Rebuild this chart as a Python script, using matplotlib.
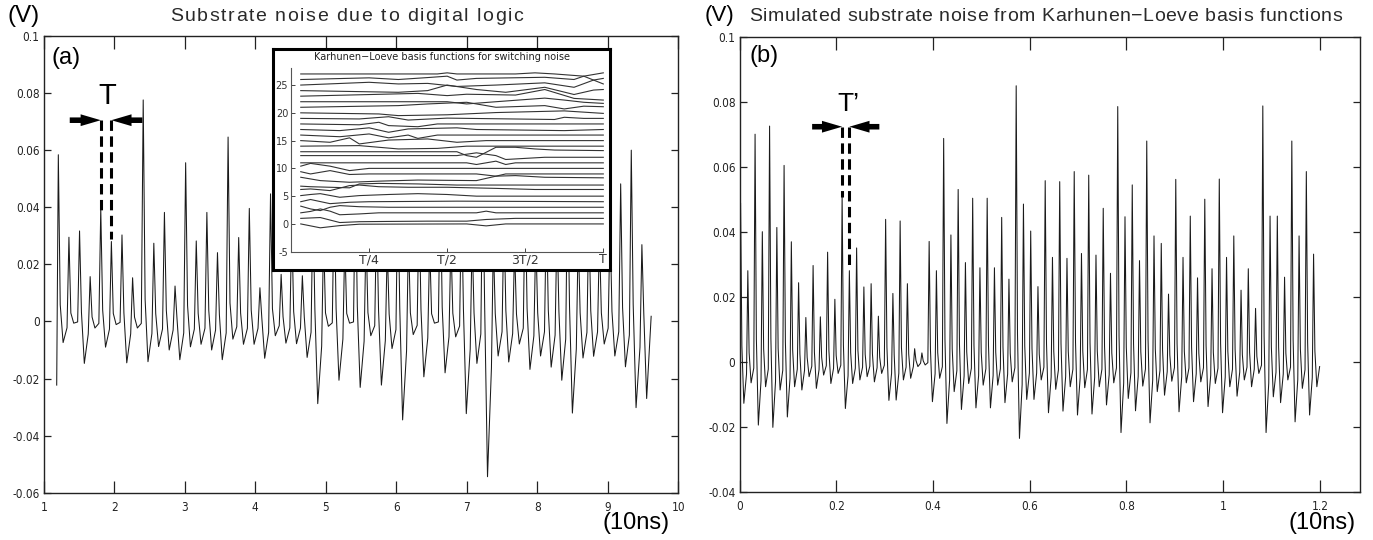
import numpy as np
import matplotlib
matplotlib.use("Agg")
import matplotlib.pyplot as plt
from matplotlib import font_manager as fm
from matplotlib.font_manager import FontProperties

# ---------------- data ----------------
# Panel (a): measured substrate noise, one spike per clock cycle
t_first_a = 1.206          # time of first spike (10 ns units)
period_a = 0.1505          # clock period T
start_a = (1.183, -0.0223)
end_a = (9.615, 0.0018)
peak_a = [0.0584, 0.0295, 0.0317, 0.0157, 0.0395, 0.0280, 0.0303, 0.0153, 0.0776, 0.0274,
          0.0382, 0.0124, 0.0556, 0.0282, 0.0382, 0.0241, 0.0646, 0.0294, 0.0396, 0.0118,
          0.0447, 0.0165, 0.0350, 0.0160, 0.0420, 0.0300, 0.0450, 0.0280, 0.0520, 0.0310,
          0.0400, 0.0260, 0.0480, 0.0300, 0.0420, 0.0270, 0.0500, 0.0290, 0.0440, 0.0300,
          0.0560, 0.0280, 0.0380, 0.0260, 0.0460, 0.0300, 0.0400, 0.0350, 0.0520, 0.0300,
          0.0380, 0.0300, 0.0350, 0.0482, 0.0600, 0.0269]
low_a = [-0.0074, -0.0006, -0.0147, -0.0023, -0.0090, -0.0011, -0.0145, -0.0023, -0.0141, -0.0088,
         -0.0100, -0.0134, -0.0089, -0.0080, -0.0100, -0.0134, -0.0062, -0.0080, -0.0080, -0.0129,
         -0.0050, -0.0076, -0.0078, -0.0126, -0.0288, -0.0017, -0.0206, -0.0006, -0.0231, -0.0050,
         -0.0223, -0.0095, -0.0345, -0.0046, -0.0194, -0.0006, -0.0180, -0.0054, -0.0323, -0.0147,
         -0.0544, -0.0121, -0.0142, -0.0079, -0.0168, -0.0121, -0.0160, -0.0206, -0.0321, -0.0128,
         -0.0122, -0.0079, -0.0121, -0.0159, -0.0302, -0.0270]

# Panel (b): simulated noise from KL basis functions
t_first_b = 0.002
period_b = 0.015           # period T'
end_b = (1.1995, -0.0015)
peak_b = [0.0487, 0.0280, 0.0700, 0.0400, 0.0725, 0.0413, 0.0604, 0.0369, 0.0243, 0.0136,
          0.0296, 0.0138, 0.0337, 0.0192, 0.0508, 0.0280, 0.0350, 0.0230, 0.0240, 0.0140,
          0.0438, 0.0210, 0.0433, 0.0240, 0.0040, 0.0027, 0.0370, 0.0280, 0.0687, 0.0390,
          0.0530, 0.0305, 0.0503, 0.0289, 0.0503, 0.0289, 0.0444, 0.0254, 0.0849, 0.0485,
          0.0402, 0.0231, 0.0557, 0.0321, 0.0554, 0.0318, 0.0585, 0.0333, 0.0574, 0.0328,
          0.0472, 0.0272, 0.0785, 0.0446, 0.0544, 0.0311, 0.0679, 0.0387, 0.0364, 0.0208,
          0.0561, 0.0321, 0.0448, 0.0258, 0.0500, 0.0286, 0.0562, 0.0321, 0.0387, 0.0220,
          0.0286, 0.0164, 0.0787, 0.0448, 0.0448, 0.0260, 0.0679, 0.0387, 0.0585, 0.0331]
low_b = [-0.0128, -0.0065, -0.0195, -0.0077, -0.0202, -0.0087, -0.0170, -0.0077, -0.0087, -0.0046,
         -0.0082, -0.0041, -0.0067, -0.0036, -0.0144, -0.0067, -0.0056, -0.0046, -0.0062, -0.0036,
         -0.0119, -0.0118, -0.0056, -0.0051, -0.0015, -0.0010, -0.0123, -0.0051, -0.0190, -0.0092,
         -0.0147, -0.0067, -0.0142, -0.0072, -0.0142, -0.0072, -0.0126, -0.0062, -0.0236, -0.0116,
         -0.0116, -0.0056, -0.0157, -0.0085, -0.0152, -0.0077, -0.0164, -0.0080, -0.0161, -0.0077,
         -0.0133, -0.0065, -0.0218, -0.0113, -0.0151, -0.0075, -0.0188, -0.0092, -0.0103, -0.0060,
         -0.0154, -0.0065, -0.0123, -0.0062, -0.0138, -0.0067, -0.0157, -0.0077, -0.0106, -0.0056,
         -0.0077, -0.0036, -0.0218, -0.0108, -0.0126, -0.0056, -0.0185, -0.0082, -0.0164, -0.0077]

# Inset: Karhunen-Loeve basis functions, 32 samples per period, line k offset by k
kl_samples = 32
kl_lines = [
    [(0, 0), (2, -0.7), (4, -0.3), (6, -0.05), (17, 0), (19, -0.35), (21, 0), (31, 0)],
    [(0, 0), (2, 0.15), (4, -0.75), (6, -0.6), (9, -0.55), (13, -0.5), (17, -0.5), (19, -0.2), (22, 0), (31, 0)],
    [(0, 0), (1, 0.25), (2, 0.7), (3, 0.3), (4, -0.35), (6, -0.2), (8, 0), (18, 0), (19, 0.3), (20, 0), (31, 0)],
    [(0, 0.2), (1, -0.3), (2, -0.6), (3, 0), (4, 0.3), (6, 0.1), (9, 0), (31, 0)],
    [(0, 0), (1, 0.4), (3, -0.35), (5, -0.1), (7, 0), (16, 0.1), (31, 0)],
    [(0, 0.1), (1, 0.3), (2, 0.45), (4, -0.2), (6, 0.1), (9, 0.3), (12, 0.45), (15, 0.3), (18, 0), (31, 0)],
    [(0, 0.2), (1, 0.3), (3, 0), (5, 0.9), (6, 1.0), (8, 0.7), (11, 0.6), (15, 0.6), (20, 0.4), (24, 0.2), (31, 0.2)],
    [(0, -0.2), (1, -0.3), (3, -0.4), (5, -0.5), (6, 0.2), (8, 0.3), (12, 0.2), (16, 0), (31, 0)],
    [(0, 0.4), (2, -0.2), (5, -0.5), (8, -0.3), (12, -0.1), (18, -0.2), (20, 0.6), (22, 0.7), (25, 0.4), (31, 0.3)],
    [(0, 0.4), (1, 0), (3, 0.6), (5, -0.1), (7, 0), (18, 0), (20, -0.4), (21, 0), (31, 0)],
    [(0, 0.4), (1, 0.9), (3, 0.4), (5, -0.4), (7, 0), (31, 0)],
    [(0, 0), (17, 0), (18, -0.3), (20, 0.3), (21, -0.3), (22, 0), (31, 0)],
    [(0, 0.3), (16, 0.3), (18, 0.8), (20, 0.3), (21, -0.4), (23, -0.2), (25, 0), (31, 0)],
    [(0, 0), (16, 0), (17, -0.7), (18, -1.0), (20, 0.8), (22, 0.8), (24, 0.5), (26, 0.3), (31, 0.2)],
    [(0, 0), (6, 0.1), (10, -0.5), (14, -0.4), (17, 0), (31, 0)],
    [(0, 0), (3, -0.3), (5, 0.5), (6, -0.6), (9, 0.1), (13, 0.3), (16, -0.3), (19, 0), (31, 0)],
    [(0, 0), (4, -0.3), (7, 0.2), (9, -0.5), (11, 0), (12, -0.6), (14, 0), (31, 0)],
    [(0, 0), (4, -0.2), (7, 0.3), (9, -0.5), (11, 0.1), (16, 0.3), (18, 0), (27, -0.2), (31, 0)],
    [(0, 0), (6, -0.15), (8, 0.3), (9, -0.3), (12, -0.5), (14, 0), (31, 0)],
    [(0, 0), (6, -0.1), (9, 0.3), (11, -0.3), (15, 0.05), (26, -0.2), (27, 0.2), (29, 0), (31, 0)],
    [(0, 0), (8, -0.2), (10, -0.5), (15, -0.35), (20, 0.05), (27, 0.35), (31, -0.1)],
    [(0, 0), (10, 0.3), (13, 0.6), (17, 0.9), (20, 0), (25, 0.3), (27, -0.3), (29, 0.2), (31, 0.1)],
    [(0, 0), (15, 0), (17, -0.4), (20, 0), (25, 0.65), (27, 0.3), (29, -0.1), (31, -0.3)],
    [(0, 0), (12, 0.5), (15, 0.1), (17, 0.35), (22, 0.2), (25, 1.2), (28, -0.4), (31, -0.7)],
    [(0, 0), (10, -0.3), (13, 0), (15, 1.0), (18, 0.2), (21, -0.3), (25, 0.6), (28, -0.7), (30, 0.1), (31, 0.2)],
    [(0, 0), (7, 0.5), (10, 0.2), (13, 0.3), (16, -0.25), (20, 0), (25, 0.4), (28, -0.4), (30, 0.9), (31, 1.2)],
    [(0, 0), (7, 0.3), (10, 0), (13, 0.35), (15, 0.6), (16, -0.1), (18, 0.2), (25, 0.4), (28, 0), (29, 0.6), (31, -0.8)],
    [(0, 0), (14, 0), (15, 0.2), (16, 0), (22, 0), (24, 0.2), (26, 0), (29, -0.4), (31, 0.2)],
]
kl_xticks = [0.25, 0.5, 0.75, 1.0]
kl_xticklabels = ["T/4", "T/2", "3T/2", "T"]
kl_yticks = [-5, 0, 5, 10, 15, 20, 25]

xticks_a = [1, 2, 3, 4, 5, 6, 7, 8, 9, 10]
yticks_a = [-0.06, -0.04, -0.02, 0, 0.02, 0.04, 0.06, 0.08, 0.1]
ylabels_a = ["-0.06", "-0.04", "-0.02", "0", "0.02", "0.04", "0.06", "0.08", "0.1"]
xticks_b = [0, 0.2, 0.4, 0.6, 0.8, 1.0, 1.2]
xlabels_b = ["0", "0.2", "0.4", "0.6", "0.8", "1", "1.2"]
yticks_b = [-0.04, -0.02, 0, 0.02, 0.04, 0.06, 0.08, 0.1]
ylabels_b = ["-0.04", "-0.02", "0", "0.02", "0.04", "0.06", "0.08", "0.1"]

title_a = "Substrate noise due to digital logic"
title_b = "Simulated substrate noise from Karhunen\u2212Loeve basis functions"

# ---------------- rendering ----------------
W, H = 1373, 540
fig = plt.figure(figsize=(W / 100, H / 100), dpi=100)
fig.patch.set_facecolor("white")

names = {f.name for f in fm.fontManager.ttflist}
has_condensed = any(f.name == "DejaVu Sans" and f.stretch == "condensed" for f in fm.fontManager.ttflist)
if "Liberation Sans Narrow" in names:
    TICKPROP = dict(family="Liberation Sans Narrow")
    TICKSIZE = 9.5
elif has_condensed:
    TICKPROP = dict(family="DejaVu Sans", stretch="condensed")
    TICKSIZE = 8.5
else:
    TICKPROP = dict(family="DejaVu Sans")
    TICKSIZE = 8
LABELFONT = "Liberation Sans" if "Liberation Sans" in names else "DejaVu Sans"


def px_axes(x0, y0, x1, y1, **kw):
    return fig.add_axes([x0 / W, 1 - y1 / H, (x1 - x0) / W, (y1 - y0) / H], **kw)


def fig_text(x, y, s, **kw):
    return fig.text(x / W, 1 - y / H, s, **kw)


def tracked_text(x_left, y_base, s, size, target_width, **kw):
    """Text laid out character by character with extra letter spacing."""
    r = fig.canvas.get_renderer()
    prop = FontProperties(family=LABELFONT, size=size)
    bar = r.get_text_width_height_descent("||", prop, ismath=False)[0]
    adv = [r.get_text_width_height_descent("|" + c + "|", prop, ismath=False)[0] - bar for c in s]
    extra = (target_width - sum(adv)) / (len(s) - 1)
    x = x_left
    for c, w in zip(s, adv):
        if c != " ":
            fig_text(x, y_base, c, ha="left", va="baseline", fontproperties=prop, **kw)
        x += w + extra


SHAPE_FALL, SHAPE_LOW, SHAPE_REC, RECOVER = 0.18, 0.45, 0.82, 0.3


def trace(t_first, period, peaks, lows, start=None, end=None):
    ts, vs = [], []
    if start is not None:
        ts.append(start[0]); vs.append(start[1])
    n = len(peaks)
    for k in range(n):
        t = t_first + k * period
        ts += [t, t + SHAPE_FALL * period, t + SHAPE_LOW * period]
        vs += [peaks[k], 0.1 * peaks[k], lows[k]]
        if k < n - 1:
            ts.append(t + SHAPE_REC * period)
            vs.append(RECOVER * lows[k])
    if end is not None:
        ts.append(end[0]); vs.append(end[1])
    return np.array(ts), np.array(vs)


def style_main(ax):
    for s in ax.spines.values():
        s.set_linewidth(1.0)
        s.set_color("#222222")
    ax.tick_params(axis="both", which="both", direction="in", top=True, right=True,
                   colors="#222222", labelsize=TICKSIZE, width=0.9)
    ax.tick_params(axis="x", length=9, pad=6)
    ax.tick_params(axis="y", length=5, pad=3)
    for lab in ax.get_xticklabels() + ax.get_yticklabels():
        lab.set_fontfamily(TICKPROP["family"])
        if "stretch" in TICKPROP:
            lab.set_fontstretch(TICKPROP["stretch"])


# Panel (a)
axa = px_axes(43.8, 36, 678.3, 492.7)
ta, va = trace(t_first_a, period_a, peak_a, low_a, start_a, end_a)
axa.plot(ta, va, color="#1a1a1a", lw=0.75)
axa.set_xlim(1, 10)
axa.set_ylim(-0.06, 0.1)
axa.set_xticks(xticks_a)
axa.set_xticklabels([str(v) for v in xticks_a])
axa.set_yticks(yticks_a)
axa.set_yticklabels(ylabels_a)
style_main(axa)

# Panel (b)
axb = px_axes(739.6, 36.7, 1360, 491.7)
tb, vb = trace(t_first_b, period_b, peak_b, low_b, None, end_b)
axb.plot(tb, vb, color="#1a1a1a", lw=0.75)
axb.set_xlim(0, 1.283)
axb.set_ylim(-0.04, 0.1)
axb.set_xticks(xticks_b)
axb.set_xticklabels(xlabels_b)
axb.set_yticks(yticks_b)
axb.set_yticklabels(ylabels_b)
style_main(axb)


def period_marker(ax, x_left, x_right, y_arrow, y_left_end, y_right_end, arrow_len):
    ds = (0, (3.4, 1.8))
    ax.plot([x_left, x_left], [y_arrow, y_left_end], color="k", lw=2.2, ls=ds,
            dash_capstyle="butt", zorder=4)
    ax.plot([x_right, x_right], [y_arrow, y_right_end], color="k", lw=2.2, ls=ds,
            dash_capstyle="butt", zorder=4)
    style = "simple,head_length=1.45,head_width=0.85,tail_width=0.4"
    ax.annotate("", xy=(x_left, y_arrow), xytext=(x_left - arrow_len, y_arrow),
                arrowprops=dict(arrowstyle=style, color="k", mutation_scale=10,
                                shrinkA=0, shrinkB=0, lw=0), zorder=4)
    ax.annotate("", xy=(x_right, y_arrow), xytext=(x_right + arrow_len, y_arrow),
                arrowprops=dict(arrowstyle=style, color="k", mutation_scale=10,
                                shrinkA=0, shrinkB=0, lw=0), zorder=4)


period_marker(axa, t_first_a + 4 * period_a, t_first_a + 5 * period_a, 0.0705, 0.039, 0.0288, 0.44)
period_marker(axb, t_first_b + 14 * period_b, t_first_b + 15 * period_b, 0.0723, 0.0508, 0.0282, 0.062)

# Inset frame and axes
frame = px_axes(273, 49, 610, 270)
frame.set_facecolor("white")
frame.set_xticks([]); frame.set_yticks([])
for s in frame.spines.values():
    s.set_linewidth(2.2)
    s.set_color("black")
frame.set_zorder(5)

axi = px_axes(291, 68.4, 603.3, 251.7)
axi.set_zorder(6)
axi.patch.set_alpha(0)
kx = np.arange(1, kl_samples + 1) / kl_samples
for k, pts in enumerate(kl_lines):
    xs = [kx[i] for i, _ in pts]
    ys = [k + d for _, d in pts]
    axi.plot(xs, ys, color="#333333", lw=0.8, clip_on=False)
axi.set_xlim(0, 1.0)
axi.set_ylim(-5, 28)
axi.spines["top"].set_visible(False)
axi.spines["right"].set_visible(False)
for s in ("left", "bottom"):
    axi.spines[s].set_color("#555555")
    axi.spines[s].set_linewidth(0.8)
axi.set_xticks(kl_xticks)
axi.set_xticklabels(kl_xticklabels)
axi.set_yticks(kl_yticks)
axi.set_yticklabels([str(v) for v in kl_yticks])
axi.tick_params(direction="in", colors="#444444", length=3, width=0.7)
axi.tick_params(axis="y", labelsize=7, pad=2)
axi.tick_params(axis="x", labelsize=9, pad=1)
for lab in axi.get_xticklabels() + axi.get_yticklabels():
    lab.set_color("#333333")
fig_text(442, 57, "Karhunen\u2212Loeve basis functions for switching noise",
         ha="center", va="center", fontsize=7, color="#222222", zorder=10)

# Texts
tracked_text(170, 21, title_a, 14, 353, color="#2a2a2a")
tracked_text(749, 21, title_b, 14, 593, color="#2a2a2a")
fig_text(24, 16, "(V)", ha="center", va="center", fontsize=17.5, color="black", family=LABELFONT)
fig_text(720, 15, "(V)", ha="center", va="center", fontsize=16, color="black", family=LABELFONT)
fig_text(66, 58, "(a)", ha="center", va="center", fontsize=17, color="black", family=LABELFONT)
fig_text(764, 56, "(b)", ha="center", va="center", fontsize=17, color="black", family=LABELFONT)
fig_text(107, 96, "T", ha="center", va="center", fontsize=21, color="black", family=LABELFONT)
fig_text(848, 104, "T\u2019", ha="center", va="center", fontsize=19, color="black", family=LABELFONT)
fig_text(636, 523, "(10ns)", ha="center", va="center", fontsize=17, color="black", family=LABELFONT)
fig_text(1322, 523, "(10ns)", ha="center", va="center", fontsize=17, color="black", family=LABELFONT)

fig.savefig("out.png", dpi=100, facecolor="white")
